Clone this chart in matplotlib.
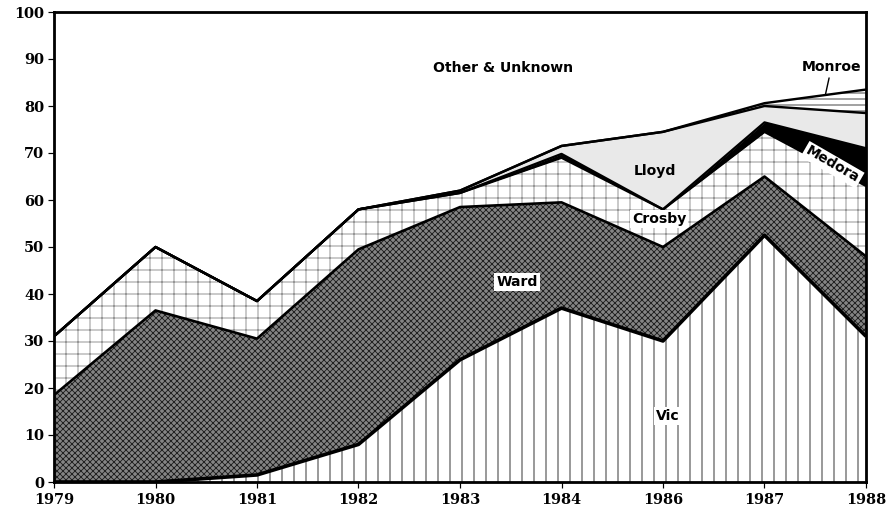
import numpy as np
import matplotlib
matplotlib.use("Agg")
import matplotlib.pyplot as plt

years = ['1979', '1980', '1981', '1982', '1983', '1984', '1986', '1987', '1988']
vic = [0, 0, 1.5, 8, 26, 37, 30, 52.5, 31]
ward = [18.5, 36.5, 29, 41.5, 32.5, 22.5, 20, 12.5, 17]
crosby = [12.5, 13.5, 8, 8.5, 3, 9.5, 8, 9.5, 15]
medora = [0, 0, 0, 0, 0, 0.8, 0, 2, 8]
lloyd = [0, 0, 0, 0, 0.5, 1.7, 16.5, 3.5, 7.5]
monroe = [0, 0, 0, 0, 0, 0, 0, 0.6, 5]
yticks = list(range(0, 101, 10))

series = [vic, ward, crosby, medora, lloyd, monroe]
other = [100 - sum(v) for v in zip(*series)]
series.append(other)

styles = [
    dict(facecolor='white', edgecolor='#222222', hatch='|'),      # Vic
    dict(facecolor='#858585', edgecolor='#222222', hatch='xxxx'),  # Ward
    dict(facecolor='white', edgecolor='#8a8a8a', hatch='+'),       # Crosby
    dict(facecolor='black', edgecolor='black', hatch=None),        # Medora
    dict(facecolor='#e9e9e9', edgecolor='#e9e9e9', hatch=None),    # Lloyd
    dict(facecolor='white', edgecolor='#333333', hatch='--'),      # Monroe
    dict(facecolor='white', edgecolor='white', hatch=None),        # Other
]
line_w = [3.6, 2.6, 2.4, 2.4, 2.4, 2.4, 0]

DPI = 72
fig = plt.figure(figsize=(887 / DPI, 516 / DPI), dpi=DPI)
ax = fig.add_axes([54 / 887, 34 / 516, (866 - 54) / 887, (482 - 12) / 516])
plt.rcParams['hatch.linewidth'] = 0.9

x = np.arange(len(years))
base = np.zeros(len(years))
for vals, st, lw in zip(series, styles, line_w):
    top = base + np.array(vals)
    ax.fill_between(x, base, top, linewidth=0, **st)
    if lw > 0:
        ax.plot(x, top, color='black', lw=lw, solid_joinstyle='round', solid_capstyle='butt')
    base = top

ax.set_xlim(0, len(years) - 1)
ax.set_ylim(0, 100)
ax.set_xticks(x)
ax.set_xticklabels(years)
ax.set_yticks(yticks)
for s in ax.spines.values():
    s.set_linewidth(2.8)
    s.set_color('black')
ax.tick_params(axis='both', direction='out', length=6, width=1.2, colors='black')
ax.tick_params(axis='x', pad=5)
ax.tick_params(axis='y', pad=4)
for lab in ax.get_xticklabels() + ax.get_yticklabels():
    lab.set_fontfamily('DejaVu Serif')
    lab.set_fontweight('bold')
    lab.set_fontsize(14.5)

lab_font = dict(family='DejaVu Sans', weight='bold', size=14)
box = dict(boxstyle='square,pad=0.15', facecolor='white', edgecolor='none')
ax.text(4.42, 88, 'Other & Unknown', ha='center', va='center', **lab_font)
ax.text(5.92, 66.2, 'Lloyd', ha='center', va='center', **lab_font)
ax.text(5.96, 56, 'Crosby', ha='center', va='center', bbox=box, **lab_font)
ax.text(4.56, 42.5, 'Ward', ha='center', va='center', bbox=box, **lab_font)
ax.text(6.05, 14, 'Vic', ha='center', va='center', bbox=box, **lab_font)
ax.text(7.67, 67.5, 'Medora', ha='center', va='center', rotation=-30,
        rotation_mode='anchor', bbox=box, **lab_font)
ax.annotate('Monroe', xy=(7.6, 82.4), xytext=(7.66, 88.3), ha='center', va='center',
            arrowprops=dict(arrowstyle='-', lw=1.4, color='black', shrinkA=2, shrinkB=0),
            **lab_font)

fig.savefig('out.png', dpi=DPI, facecolor='white')
